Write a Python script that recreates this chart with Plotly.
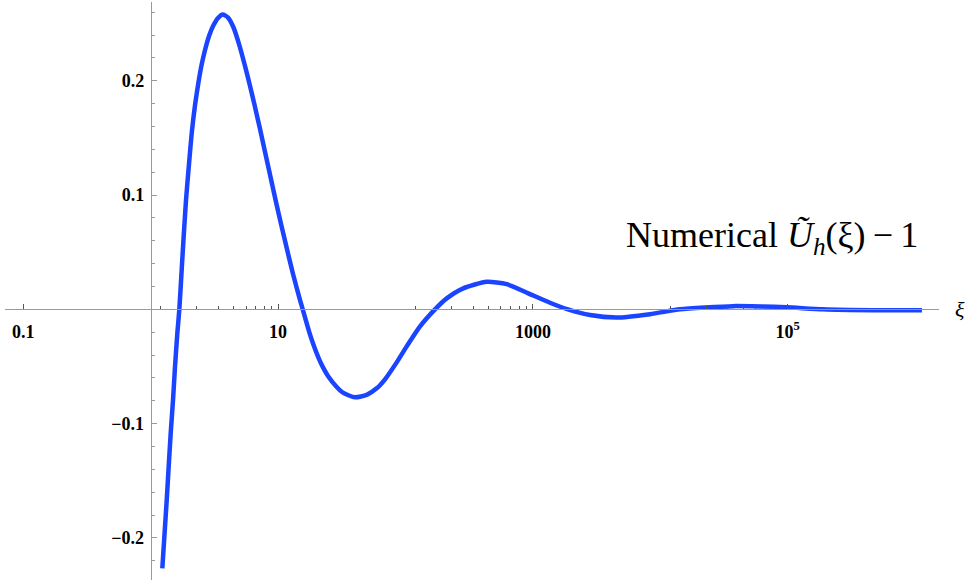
import plotly.graph_objects as go

# Curve samples: xi and U_h(xi) - 1
xi = [1.233, 1.283, 1.335, 1.384, 1.435, 1.496, 1.551, 1.618, 1.677, 1.777,
      1.892, 1.991, 2.098, 2.227, 2.364, 2.505, 2.668, 2.869, 3.100, 3.376,
      3.673, 4.045, 4.450, 4.933, 5.498, 6.018, 6.505, 7.211, 7.894, 8.717,
      9.627, 10.63, 11.68, 13.09, 14.86, 15.60, 17.58, 18.89, 20.68, 22.51,
      24.77, 28.84, 32.50, 40.15, 49.60, 59.41, 69.04, 85.29, 102.2, 130.0,
      170.4, 210.6, 284.3, 434.0, 622.9, 920.2, 1362.0, 1886.0, 2807.0, 4549.0,
      8303.0, 14280.0, 22430.0, 37220.0, 60630.0, 98740.0, 189300.0, 467200.0,
      1133000.0]
u_minus_1 = [-0.2266, -0.1966, -0.1668, -0.1371, -0.1082, -0.0794, -0.0502, -0.0207, 0.0, 0.0475,
             0.0956, 0.1254, 0.1542, 0.1787, 0.1980, 0.2137, 0.2269, 0.2392, 0.2483, 0.2549,
             0.2579, 0.2553, 0.2470, 0.2321, 0.2129, 0.1954, 0.1796, 0.1577, 0.1376, 0.1158,
             0.0939, 0.0729, 0.0536, 0.0309, 0.0081, 0.0, -0.0201, -0.0306, -0.0420, -0.0508,
             -0.0587, -0.0679, -0.0731, -0.0770, -0.0748, -0.0691, -0.0612, -0.0464, -0.0324, -0.0149,
             0.0, 0.0096, 0.0184, 0.0241, 0.0221, 0.0140, 0.0058, 0.0, -0.0050, -0.0072,
             -0.0042, 0.0, 0.0016, 0.0028, 0.0025, 0.0018, 0.0, -0.0008,
             -0.0008]

# Tick labels
x_major_vals = [0.1, 10, 1000, 1e5]
x_major_text = ["0.1", "10", "1000", "10<sup>5</sup>"]
x_minor_vals = ([0.1 + 1.1 * k for k in range(1, 9)]
                + [10 + 110 * k for k in range(1, 9)]
                + [1000 + 11000 * k for k in range(1, 9)])
y_major_vals = [-0.2, -0.1, 0.1, 0.2]
y_major_text = ["\u22120.2", "\u22120.1", "0.1", "0.2"]

x_range = [-1.144, 6.188]
y_range = [-0.2368, 0.2689]

x_axis_pos = (0 - y_range[0]) / (y_range[1] - y_range[0])
y_axis_pos = (0 - x_range[0]) / (x_range[1] - x_range[0])

serif = "Liberation Serif, Times New Roman, serif"
axis_gray = "#9a9a9a"

fig = go.Figure()
fig.add_trace(go.Scatter(
    x=xi, y=u_minus_1, mode="lines",
    line=dict(color="#1a44ff", width=4.5, shape="spline", smoothing=0.6),
    hoverinfo="skip", showlegend=False,
))

fig.update_layout(
    width=968, height=580,
    margin=dict(l=5, r=29, t=2, b=0),
    paper_bgcolor="white", plot_bgcolor="white",
    xaxis=dict(
        type="log", range=x_range,
        anchor="free", position=x_axis_pos,
        showline=True, linecolor=axis_gray, linewidth=1,
        showgrid=False, zeroline=False,
        tickmode="array", tickvals=x_major_vals, ticktext=x_major_text,
        ticks="inside", ticklen=5, tickcolor="#555", tickwidth=1,
        ticklabelstandoff=6,
        tickfont=dict(family=serif, size=18, color="black", weight="bold"),
        minor=dict(tickmode="array", tickvals=x_minor_vals, ticks="inside",
                   ticklen=3, tickcolor="#555", tickwidth=1, showgrid=False),
    ),
    yaxis=dict(
        range=y_range,
        anchor="free", position=y_axis_pos,
        showline=True, linecolor=axis_gray, linewidth=1,
        showgrid=False, zeroline=False,
        tickmode="array", tickvals=y_major_vals, ticktext=y_major_text,
        ticks="inside", ticklen=5, tickcolor=axis_gray, tickwidth=1,
        ticklabelstandoff=3,
        tickfont=dict(family=serif, size=18, color="black", weight="bold"),
        minor=dict(tickmode="linear", tick0=0, dtick=0.02, ticks="inside",
                   ticklen=3, tickcolor=axis_gray, tickwidth=1, showgrid=False),
    ),
    annotations=[
        dict(text="Numerical <i>\u0168</i><sub><i>h</i></sub>(\u03be)\u2009\u2212\u20091",
             xref="paper", yref="paper", x=0.9797, y=0.5934,
             xanchor="right", yanchor="middle", showarrow=False,
             font=dict(family=serif, size=36, color="black")),
        dict(text="<i>\u03be</i>", xref="paper", yref="paper",
             x=(960 - 5) / 934, y=(580 - 310) / 578,
             xanchor="center", yanchor="middle", showarrow=False,
             font=dict(family=serif, size=22, color="black")),
    ],
)

fig.write_html("out.html", config={"displayModeBar": False},
               post_script="document.body.style.margin='0';")
